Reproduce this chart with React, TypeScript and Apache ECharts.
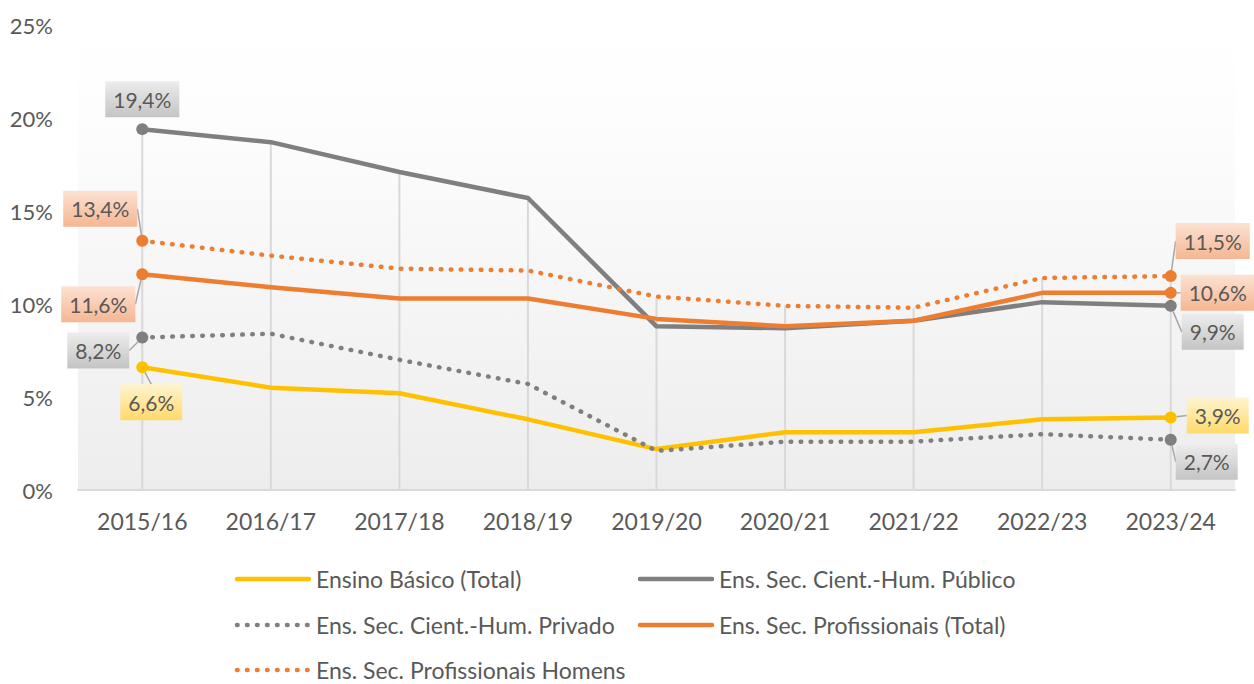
import React, { useEffect, useRef } from 'react';
import * as echarts from 'echarts';

const categories = ['2015/16', '2016/17', '2017/18', '2018/19', '2019/20', '2020/21', '2021/22', '2022/23', '2023/24'];
const basico = [6.6, 5.5, 5.2, 3.8, 2.2, 3.1, 3.1, 3.8, 3.9];
const publico = [19.4, 18.7, 17.1, 15.7, 8.8, 8.7, 9.1, 10.1, 9.9];
const privado = [8.2, 8.4, 7.0, 5.7, 2.1, 2.6, 2.6, 3.0, 2.7];
const profTotal = [11.6, 10.9, 10.3, 10.3, 9.2, 8.8, 9.1, 10.6, 10.6];
const profHomens = [13.4, 12.6, 11.9, 11.8, 10.4, 9.9, 9.8, 11.4, 11.5];
const seriesNames = [
  'Ensino Básico (Total)',
  'Ens. Sec. Cient.-Hum. Público',
  'Ens. Sec. Cient.-Hum. Privado',
  'Ens. Sec. Profissionais (Total)',
  'Ens. Sec. Profissionais Homens',
];

const FONT = 'Lato, "Open Sans", sans-serif';
const TXT = '#595959';
const YELLOW = '#FFC000';
const GREY = '#7F7F7F';
const ORANGE = '#ED7D31';
const DOT: number[] = [0.6, 9.4];

function grad(top: string, bottom: string) {
  return {
    type: 'linear',
    x: 0,
    y: 0,
    x2: 0,
    y2: 1,
    colorStops: [
      { offset: 0, color: top },
      { offset: 1, color: bottom },
    ],
  };
}
const BG_GREY = grad('#EDEDED', '#C4C4C4');
const BG_ORANGE = grad('#FCE2D3', '#F5B692');
const BG_YELLOW = grad('#FFF4D0', '#FFDA6A');

function fmt(v: number) {
  return v.toFixed(1).replace('.', ',') + '%';
}

function makeSeries(
  name: string,
  values: number[],
  color: string,
  dotted: boolean,
  labelBg: any,
  offsets: number[][],
  hideFirstGuide: boolean,
  z: number
) {
  const last = values.length - 1;
  return {
    type: 'line',
    name,
    z,
    symbol: 'circle',
    symbolSize: 12,
    showSymbol: true,
    data: values.map((v, i) =>
      i === 0 || i === last
        ? {
            value: v,
            symbol: 'circle',
            symbolSize: 12,
            label: { show: true },
            labelLine: { show: !(i === 0 && hideFirstGuide) },
          }
        : { value: v, symbol: 'none' }
    ),
    lineStyle: {
      color,
      width: 4.5,
      type: dotted ? DOT : 'solid',
      cap: 'round',
      join: 'round',
    },
    itemStyle: { color },
    label: {
      show: false,
      position: 'inside',
      formatter: (p: any) => fmt(p.value),
      backgroundColor: labelBg,
      color: TXT,
      fontSize: 21,
      fontFamily: FONT,
      padding: [8, 8, 7, 8],
    },
    labelLine: {
      show: true,
      lineStyle: { color: '#A6A6A6', width: 1.5 },
    },
    labelLayout: (p: any) => {
      const o = offsets[p.dataIndex === 0 ? 0 : 1];
      return { dx: o[0], dy: o[1] };
    },
  };
}

export default function App() {
  const ref = useRef<HTMLDivElement>(null);
  useEffect(() => {
    if (!ref.current) return;
    const chart = echarts.init(ref.current, undefined, { renderer: 'svg' });
    const maxima = categories.map((_, i) =>
      Math.max(basico[i], publico[i], privado[i], profTotal[i], profHomens[i])
    );

    const legendCols = [235, 638];
    const legendRows = [579, 625, 670];
    const legendItems = [
      { name: seriesNames[0], color: YELLOW, dotted: false, col: 0, row: 0 },
      { name: seriesNames[1], color: GREY, dotted: false, col: 1, row: 0 },
      { name: seriesNames[2], color: GREY, dotted: true, col: 0, row: 1 },
      { name: seriesNames[3], color: ORANGE, dotted: false, col: 1, row: 1 },
      { name: seriesNames[4], color: ORANGE, dotted: true, col: 0, row: 2 },
    ];
    const graphic: any[] = [];
    legendItems.forEach((it) => {
      const x = legendCols[it.col];
      const y = legendRows[it.row];
      graphic.push({
        type: 'line',
        shape: { x1: x + 2, y1: y, x2: x + 74, y2: y },
        style: {
          stroke: it.color,
          lineWidth: 4.5,
          lineDash: it.dotted ? DOT : null,
          lineCap: 'round',
        },
        silent: true,
      });
      graphic.push({
        type: 'text',
        x: x + 81,
        y,
        style: {
          text: it.name,
          fill: TXT,
          fontSize: 23,
          fontFamily: FONT,
          verticalAlign: 'middle',
          align: 'left',
        },
        silent: true,
      });
    });

    chart.setOption({
      animation: false,
      backgroundColor: '#ffffff',
      grid: {
        left: 78,
        right: 19,
        top: 25,
        bottom: 194,
        show: true,
        borderWidth: 0,
        backgroundColor: {
          type: 'linear',
          x: 0,
          y: 0,
          x2: 0,
          y2: 1,
          colorStops: [
            { offset: 0, color: '#FFFFFF' },
            { offset: 0.2, color: '#FDFDFD' },
            { offset: 1, color: '#EDEDED' },
          ],
        },
      },
      xAxis: {
        type: 'category',
        data: categories,
        boundaryGap: true,
        axisLine: { show: true, lineStyle: { color: '#D9D9D9', width: 2 } },
        axisTick: { show: false },
        axisLabel: { color: TXT, fontSize: 23, fontFamily: FONT, margin: 19 },
        splitLine: { show: false },
      },
      yAxis: {
        type: 'value',
        min: 0,
        max: 25,
        interval: 5,
        axisLine: { show: false },
        axisTick: { show: false },
        splitLine: { show: false },
        axisLabel: {
          color: TXT,
          fontSize: 22,
          fontFamily: FONT,
          margin: 25,
          formatter: (v: number) => v + '%',
        },
      },
      graphic,
      series: [
        {
          type: 'bar',
          name: 'drop',
          data: maxima,
          barWidth: 2,
          silent: true,
          z: 1,
          itemStyle: { color: '#D9D9D9' },
        },
        makeSeries(seriesNames[0], basico, YELLOW, false, BG_YELLOW, [[9, 35], [47, -2]], false, 3),
        makeSeries(seriesNames[1], publico, GREY, false, BG_GREY, [[0, -30], [42, 26]], true, 4),
        makeSeries(seriesNames[2], privado, GREY, true, BG_GREY, [[-44, 13], [36, 22]], false, 5),
        makeSeries(seriesNames[3], profTotal, ORANGE, false, BG_ORANGE, [[-44, 30], [47, 0]], false, 6),
        makeSeries(seriesNames[4], profHomens, ORANGE, true, BG_ORANGE, [[-42, -32], [42, -35]], false, 7),
      ],
    });
    return () => chart.dispose();
  }, []);
  return (
    <div
      ref={ref}
      style={{ position: 'absolute', left: 0, top: 0, width: 1254, height: 684 }}
    />
  );
}
